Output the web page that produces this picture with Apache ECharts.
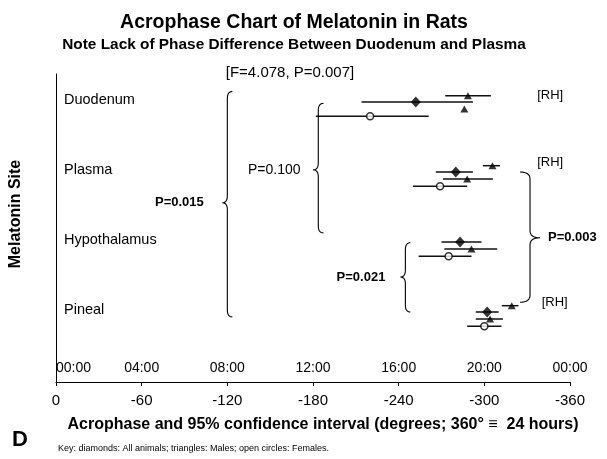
<!DOCTYPE html>
<html><head><meta charset="utf-8">
<script src="https://cdn.jsdelivr.net/npm/echarts@6/dist/echarts.min.js"></script>
<style>html,body{margin:0;padding:0;background:#fff}#c{width:607px;height:459px}</style>
</head><body><div id="c"></div>
<script>
// ---- data (degrees; negative = later in the day) ----
const sites = ['Duodenum', 'Plasma', 'Hypothalamus', 'Pineal'];
const timeLabels = ['00:00', '04:00', '08:00', '12:00', '16:00', '20:00', '00:00'];
// All animals (diamonds)
const allAcro = [-252, -280, -283, -302];
const allLow  = [-214, -266, -270, -294];
const allHigh = [-292, -292, -298, -310];
// Males (triangles)
const maleAcro = [-286, -288, -291, -304];
const maleLow  = [null, -271, -272, -294];
const maleHigh = [null, -306, -309, -313];
// Females (open circles)
const femAcro = [-220, -269, -275, -300];
const femLow  = [-182, -250, -254, -288];
const femHigh = [-261, -288, -291, -312];
// [RH] triangles
const rhAcro = [-288.5, -305.7, null, -319.2];
const rhLow  = [-272.6, -299, null, -312.2];
const rhHigh = [-304.6, -311, null, -323.9];

// ---- layout constants ----
const FONT = 'Liberation Sans, Arial, sans-serif';
const ROW = { rh: -0.9, all: 0, male: 1, female: 2.05 };
const SITE_STEP = 10;

function build(acro, low, high, off) {
  const pts = [], bars = [];
  acro.forEach((v, i) => {
    if (v == null) return;
    const y = i * SITE_STEP + off;
    pts.push([v, y]);
    if (low[i] != null && high[i] != null) bars.push([low[i], high[i], y]);
  });
  return { pts, bars };
}
const gAll = build(allAcro, allLow, allHigh, ROW.all);
const gMale = build(maleAcro, maleLow, maleHigh, ROW.male);
const gFem = build(femAcro, femLow, femHigh, ROW.female);
const gRh = build(rhAcro, rhLow, rhHigh, ROW.rh);
const allBars = [].concat(gRh.bars, gAll.bars, gMale.bars, gFem.bars);

const chart = echarts.init(document.getElementById('c'), null, { renderer: 'canvas' });
const option = {
  animation: false,
  backgroundColor: '#fff',
  textStyle: { fontFamily: FONT, color: '#000' },
  title: [
    { text: 'Acrophase Chart of Melatonin in Rats', left: 289, top: 8, textAlign: 'center',
      textStyle: { fontFamily: FONT, fontSize: 19.5, fontWeight: 'bold', color: '#000' } },
    { text: 'Note Lack of Phase Difference Between Duodenum and Plasma', left: 289, top: 32, textAlign: 'center',
      textStyle: { fontFamily: FONT, fontSize: 15.4, fontWeight: 'bold', color: '#000' } },
    { text: '[F=4.078, P=0.007]', left: 285, top: 60, textAlign: 'center',
      textStyle: { fontFamily: FONT, fontSize: 15, fontWeight: 'normal', color: '#000' } }
  ],
  grid: { left: 55, right: 37, top: 74, bottom: 77, containLabel: false },
  xAxis: [
    {
      type: 'value', min: -360, max: 0, interval: 60, inverse: true, position: 'bottom',
      axisLine: { show: true, onZero: false, lineStyle: { color: '#000', width: 1 } },
      axisTick: { show: true, length: 4, lineStyle: { color: '#000' } },
      splitLine: { show: false },
      axisLabel: { fontFamily: FONT, fontSize: 15, color: '#000', margin: 11 },
      name: 'Acrophase and 95% confidence interval (degrees; 360° \u2261  24 hours)',
      nameLocation: 'middle', nameGap: 35,
      nameTextStyle: { fontFamily: FONT, fontSize: 16, fontWeight: 'bold', color: '#000', padding: [0, 0, 0, 20] }
    },
    {
      type: 'value', min: -360, max: 0, interval: 60, inverse: true, position: 'bottom',
      axisLine: { show: false, onZero: false }, axisTick: { show: false }, splitLine: { show: false },
      axisLabel: {
        inside: true, margin: 7, fontFamily: FONT, fontSize: 14, color: '#000',
        alignMaxLabel: 'left', alignMinLabel: 'center',
        formatter: v => timeLabels[Math.round(-v / 60)]
      }
    }
  ],
  yAxis: {
    type: 'value', inverse: true, min: -4, max: 40,
    axisLine: { show: true, onZero: false, lineStyle: { color: '#000', width: 1 } },
    axisTick: { show: false }, splitLine: { show: false },
    axisLabel: {
      inside: true, margin: 8, fontFamily: FONT, fontSize: 14.5, color: '#000',
      customValues: sites.map((s, i) => i * SITE_STEP - 0.3),
      formatter: v => sites[Math.round(v / SITE_STEP)]
    },
    name: 'Melatonin Site', nameLocation: 'middle', nameRotate: 90, nameGap: 32,
    nameTextStyle: { fontFamily: FONT, fontSize: 16, fontWeight: 'bold', color: '#000', padding: [0, 0, 0, 28] }
  },
  series: [
    {
      name: 'CI', type: 'custom', data: allBars, encode: { x: [0, 1], y: 2 },
      renderItem: (params, api) => {
        const y = api.value(2);
        const a = api.coord([api.value(0), y]);
        const b = api.coord([api.value(1), y]);
        return { type: 'line', shape: { x1: a[0], y1: a[1], x2: b[0], y2: b[1] },
                 style: { stroke: '#111', lineWidth: 1.5 } };
      }, z: 2
    },
    { name: 'All animals', type: 'scatter', data: gAll.pts, symbol: 'diamond', symbolSize: [10, 11],
      itemStyle: { color: '#000' }, z: 3 },
    { name: 'Males', type: 'scatter', data: gMale.pts, symbol: 'triangle', symbolSize: [8, 7],
      itemStyle: { color: '#000' }, z: 3 },
    { name: 'RH', type: 'scatter', data: gRh.pts, symbol: 'triangle', symbolSize: [8, 7],
      itemStyle: { color: '#000' }, z: 3 },
    { name: 'Females', type: 'scatter', data: gFem.pts, symbol: 'circle', symbolSize: 7,
      itemStyle: { color: '#fff', borderColor: '#000', borderWidth: 1.5 }, z: 4 }
  ]
};
chart.setOption(option);

// ---- annotations (braces, P values, [RH]) placed through the chart's scales ----
const P = (x, y) => chart.convertToPixel({ xAxisIndex: 0, yAxisIndex: 0 }, [x, y]);
function quad(p0, c, p1, n) {
  const out = [];
  for (let k = 0; k <= n; k++) {
    const t = k / n, u = 1 - t;
    out.push([u * u * p0[0] + 2 * u * t * c[0] + t * t * p1[0], u * u * p0[1] + 2 * u * t * c[1] + t * t * p1[1]]);
  }
  return out;
}
function bracePoints(xTip, xEnd, yTop, yMid, yBot) {
  const a = P(xEnd, yTop), m = P(xTip, yMid), b = P(xEnd, yBot);
  const xe = a[0], xt = m[0], xm = (xe + xt) / 2, r = 7;
  const t = a[1], c = m[1], bt = b[1];
  return [].concat(
    quad([xe, t], [xm, t], [xm, t + r], 8),
    quad([xm, c - r], [xm, c], [xt, c], 8),
    quad([xt, c], [xm, c], [xm, c + r], 8),
    quad([xm, bt - r], [xm, bt], [xe, bt], 8)
  );
}
const braces = [
  [-116.5, -123.5, -1.5, 14.4, 30.7],
  [-180.1, -187.3, 0.2, 9.7, 18.7],
  [-241.2, -248.2, 20.1, 25.0, 30.0],
  [-339.0, -325.0, 10.0, 19.4, 28.6]
];
const notes = [
  { t: 'P=0.015', x: -103.5, y: 14.4, align: 'right', bold: true, size: 13 },
  { t: 'P=0.100', x: -171.3, y: 9.7, align: 'right', bold: false, size: 14 },
  { t: 'P=0.021', x: -230.7, y: 25.0, align: 'right', bold: true, size: 13 },
  { t: 'P=0.003', x: -344.6, y: 19.4, align: 'left', bold: true, size: 13 },
  { t: '[RH]', x: -337.0, y: -1.0, align: 'left', bold: false, size: 13 },
  { t: '[RH]', x: -337.0, y: 8.6, align: 'left', bold: false, size: 13 },
  { t: '[RH]', x: -340.2, y: 28.6, align: 'left', bold: false, size: 13 }
];
const graphic = [];
braces.forEach(b => graphic.push({
  type: 'polyline', shape: { points: bracePoints(...b) },
  style: { stroke: '#000', fill: null, lineWidth: 1.1 }, z: 10
}));
notes.forEach(n => {
  const p = P(n.x, n.y);
  graphic.push({ type: 'text', x: p[0], y: p[1], z: 10,
    style: { text: n.t, fill: '#000', font: `${n.bold ? 'bold ' : ''}${n.size}px ${FONT}`,
             align: n.align, verticalAlign: 'middle' } });
});
graphic.push({ type: 'text', left: 12, top: 429, z: 10,
  style: { text: 'D', fill: '#000', font: `bold 22px ${FONT}` } });
graphic.push({ type: 'text', left: 58, top: 444, z: 10,
  style: { text: 'Key: diamonds: All animals; triangles: Males; open circles: Females.', fill: '#000',
           font: `9px ${FONT}` } });
chart.setOption({ graphic });
</script></body></html>
